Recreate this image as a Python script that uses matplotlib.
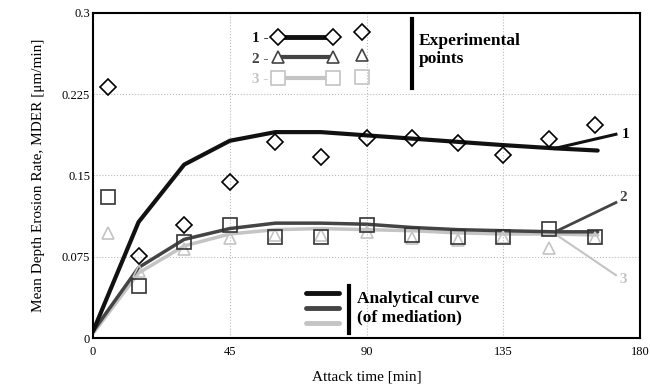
import numpy as np
import matplotlib
matplotlib.use("Agg")
import matplotlib.pyplot as plt
from matplotlib.lines import Line2D

plt.rcParams['font.family'] = ['Liberation Serif', 'DejaVu Serif']

# experimental points
t_exp = [5, 15, 30, 45, 60, 75, 90, 105, 120, 135, 150, 165]
exp1 = [0.232, 0.076, 0.104, 0.144, 0.181, 0.167, 0.185, 0.185, 0.180, 0.169, 0.184, 0.197]
exp2 = [0.097, 0.062, 0.082, 0.092, 0.095, 0.095, 0.098, 0.092, 0.090, 0.093, 0.083, 0.092]
exp3 = [0.130, 0.048, 0.089, 0.104, 0.093, 0.093, 0.104, 0.095, 0.093, 0.093, 0.101, 0.093]

# analytical curves (flat part) and the end branches
t_cur = [0, 15, 30, 45, 60, 75, 90, 105, 120, 135, 152, 166]
cur1 = [0.006, 0.107, 0.160, 0.182, 0.190, 0.190, 0.187, 0.184, 0.181, 0.178, 0.175, 0.173]
cur2 = [0.006, 0.065, 0.091, 0.101, 0.106, 0.106, 0.105, 0.102, 0.100, 0.099, 0.098, 0.098]
cur3 = [0.004, 0.060, 0.085, 0.096, 0.100, 0.101, 0.100, 0.099, 0.097, 0.096, 0.096, 0.095]
t_br = [152, 172]
br1 = [0.175, 0.188]
br2 = [0.098, 0.125]
br3 = [0.096, 0.058]

c1, c2, c3 = '#111111', '#444444', '#c4c4c4'

fig = plt.figure(figsize=(6.5, 3.91), dpi=100)
ax = fig.add_axes([0.143, 0.1355, 0.842, 0.8315])

ax.plot(t_cur, cur3, color=c3, lw=2.5, solid_capstyle='round')
ax.plot(t_br, br3, color=c3, lw=1.5)
ax.plot(t_cur, cur2, color=c2, lw=2.5, solid_capstyle='round')
ax.plot(t_br, br2, color=c2, lw=2)
ax.plot(t_cur, cur1, color=c1, lw=3, solid_capstyle='round')
ax.plot(t_br, br1, color=c1, lw=2.2)

ax.plot(t_exp, exp2, ls='none', marker='^', ms=9, mfc='none', mec=c3, mew=1.2)
ax.plot(t_exp, exp3, ls='none', marker='s', ms=10, mfc='none', mec='#333333', mew=1.2)
ax.plot(t_exp, exp1, ls='none', marker='D', ms=8, mfc='none', mec='black', mew=1.2)

ax.text(t_br[1] + 2, br1[1], '1', fontsize=11, fontweight='bold', va='center')
ax.text(t_br[1] + 1, br2[1] + 0.005, '2', fontsize=11, fontweight='bold', color=c2, va='center')
ax.text(t_br[1] + 1, br3[1] - 0.004, '3', fontsize=11, fontweight='bold', color=c3, va='center')

ax.set_xlim(0, 180)
ax.set_ylim(0, 0.3)
ax.set_xticks([0, 45, 90, 135, 180])
ax.set_yticks([0, 0.075, 0.15, 0.225, 0.3])
ax.set_yticklabels(['0', '0.075', '0.15', '0.225', '0.3'])
ax.tick_params(length=0, labelsize=9, pad=2)
ax.tick_params(axis='x', pad=6)
ax.grid(True, color='#bbbbbb', ls=':', lw=0.8)
for s in ax.spines.values():
    s.set_linewidth(1.5)

ax.set_xlabel('Attack time [min]', fontsize=11, labelpad=9)
ax.set_ylabel('Mean Depth Erosion Rate, MDER [μm/min]', fontsize=11, labelpad=12)

# legend: curve number, marker, line, marker
handles = [Line2D([], [], color=c1, lw=3.5, marker='D', ms=8, mfc='white', mec='black', mew=1.2),
           Line2D([], [], color=c2, lw=3, marker='^', ms=9, mfc='white', mec=c2, mew=1.2),
           Line2D([], [], color=c3, lw=3, marker='s', ms=10, mfc='white', mec=c3, mew=1.2)]
leg = ax.legend(handles, ['1 -', '2 -', '3 -'], markerfirst=False, numpoints=2,
                loc='upper left', bbox_to_anchor=(0.265, 0.985), frameon=False,
                handlelength=4.2, labelspacing=0.45, handletextpad=0.3,
                prop={'weight': 'bold', 'size': 11})
for txt, col in zip(leg.get_texts(), [c1, c2, c3]):
    txt.set_color(col)

# experimental points label block
tr = ax.transAxes
for yy, mk, ms, col in [(0.94, 'D', 8, 'black'), (0.872, '^', 9, c2), (0.802, 's', 10, c3)]:
    ax.plot([0.492], [yy], transform=tr, marker=mk, ms=ms, mfc='none', mec=col, mew=1.2, clip_on=False)
ax.plot([0.583, 0.583], [0.77, 0.98], transform=tr, color='black', lw=3)
ax.text(0.595, 0.885, 'Experimental\npoints', transform=tr, fontsize=12.5, fontweight='bold',
        va='center', linespacing=1.2)

# analytical curve label block
for yy, col in [(0.138, c1), (0.092, c2), (0.046, c3)]:
    ax.plot([0.39, 0.45], [yy, yy], transform=tr, color=col, lw=3.5, solid_capstyle='round')
ax.plot([0.468, 0.468], [0.015, 0.16], transform=tr, color='black', lw=3)
ax.text(0.483, 0.093, 'Analytical curve\n(of mediation)', transform=tr, fontsize=12.5, fontweight='bold',
        va='center', linespacing=1.2)

fig.savefig('out.png', dpi=100)
